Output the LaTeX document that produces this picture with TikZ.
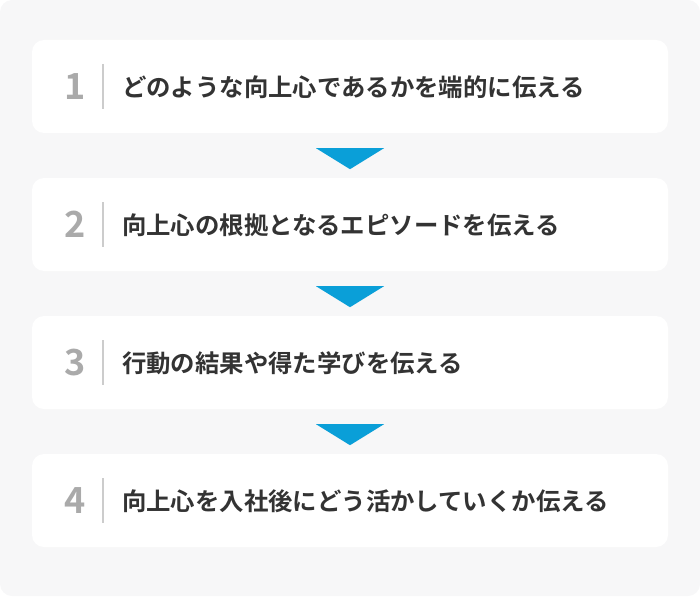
\documentclass[tikz,border=0pt]{standalone}
\usepackage{fontspec}
\newfontfamily\jp{Noto Sans CJK JP}[BoldFont={Noto Sans CJK JP Bold}]
\usetikzlibrary{positioning}
\definecolor{bggray}{HTML}{F7F7F8}
\definecolor{numgray}{HTML}{AAAAAA}
\definecolor{sepgray}{HTML}{CCCCCC}
\definecolor{txtdark}{HTML}{333333}
\definecolor{arrowblue}{HTML}{0A9FD8}
\tikzset{
        stepbox/.style={rectangle,fill=white,rounded corners=12pt,minimum width=636pt,minimum height=93pt,inner sep=0pt},
        stepnum/.style={text=numgray,font=\jp\bfseries\fontsize{36}{36}\selectfont,inner sep=0pt},
        steptext/.style={text=txtdark,font=\jp\bfseries\fontsize{24.4}{24.4}\selectfont,anchor=west,inner sep=0pt},
        stepsep/.style={draw=sepgray,line width=2pt},
        steparrow/.style={fill=arrowblue},
        }

\begin{document}
\begin{tikzpicture}[x=1pt,y=-1pt]
			% background
			\fill [bggray, rounded corners=12pt] (0,0) rectangle (700,596);
			\useasboundingbox (0,0) rectangle (700,596);

			% steps
			\foreach \i/\label in {1/{どのような向上心であるかを端的に伝える},
				2/{向上心の根拠となるエピソードを伝える},
				3/{行動の結果や得た学びを伝える},
				4/{向上心を入社後にどう活かしていくか伝える}}{
				\node [stepbox] (box\i) at (350,{86.5+138*(\i-1)}) {};
				\node [stepnum] (num\i) at ([xshift=43pt]box\i.west) {\i};
				\coordinate (sep\i) at ([xshift=71pt]box\i.west);
				\draw [stepsep] ([yshift=22.5pt]sep\i) to ([yshift=-22.5pt]sep\i);
				\node [steptext] (text\i) at ([xshift=90pt,yshift=-1pt]box\i.west) {\label};
			}

			% arrows
			\foreach \i in {1,2,3}{
				\fill [steparrow] ([xshift=-34pt,yshift=-15pt]box\i.south) -- ([xshift=34pt,yshift=-15pt]box\i.south) -- ([yshift=-36pt]box\i.south) -- cycle;
			}
		\end{tikzpicture}
\end{document}
